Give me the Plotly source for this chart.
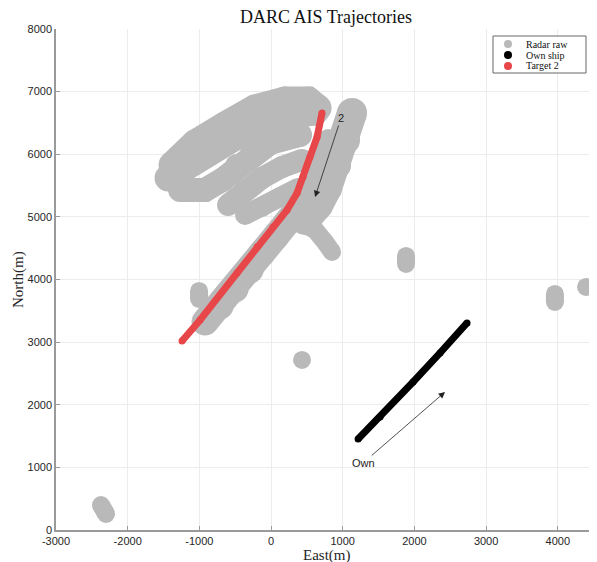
import plotly.graph_objects as go

# ---- data (East, North in metres) ----
x_ticks = [-3000, -2000, -1000, 0, 1000, 2000, 3000, 4000]
x_tick_text = ["-3000", "-2000", "-1000", "0", "1000", "2000", "3000", "4000"]
y_ticks = [0, 1000, 2000, 3000, 4000, 5000, 6000, 7000, 8000]
y_tick_text = ["0", "1000", "2000", "3000", "4000", "5000", "6000", "7000", "8000"]

# radar raw tracks (each a list of E, N pairs)
radar_a1_e = [-1381, -1060, -642, -223, 195, 516, 656]
radar_a1_n = [5829, 6180, 6468, 6739, 6867, 6867, 6739]
radar_a2_e = [-1437, -1060, -642, -223, 265, 614]
radar_a2_n = [5621, 5909, 6228, 6468, 6628, 6675]
radar_a3_e = [-1269, -921, -684, -474, -265, -14, 405]
radar_a3_n = [5430, 5430, 5590, 5813, 6021, 6180, 6308]
radar_b_e = [-600, -363, -126, 153, 432]
radar_b_n = [5190, 5430, 5621, 5797, 5909]
radar_c_e = [-363, -126, 126, 377]
radar_c_n = [5031, 5158, 5318, 5462]
radar_d_e = [-921, -711, -502, -293, -126, 70, 265, 405]
radar_d_n = [3322, 3577, 3849, 4152, 4424, 4695, 4951, 5174]
radar_e_e = [1130, 1032, 907, 781, 656, 474]
radar_e_n = [6659, 6228, 5829, 5462, 5190, 4951]
radar_e2_e = [795, 656, 516, 377]
radar_e2_n = [6260, 5877, 5494, 5190]
radar_f_e = [405, 614, 753, 851]
radar_f_n = [4919, 4791, 4599, 4440]
# small isolated returns (None separates tracks)
radar_s_e = [-1004, -1004, None, 1883, 1883, None, 432, None,
             3960, 3960, None, 4394, None, -2372, -2302]
radar_s_n = [3817, 3689, None, 4376, 4248, None, 2715, None,
             3769, 3641, None, 3881, None, 399, 256]

own_e = [1214, 1521, 1981, 2358, 2734]
own_n = [1453, 1805, 2364, 2827, 3306]

tgt2_e = [-1242, -990, -474, -195, 28, 223, 363, 446, 544, 642, 711]
tgt2_n = [3018, 3354, 4104, 4520, 4839, 5110, 5382, 5637, 5957, 6276, 6659]

legend_names = ["Radar raw", "Own ship", "Target 2"]

# annotations: text position and arrow head
ann_2_text = (977, 6580)
ann_2_head = (614, 5318)
ann_own_text = (1283, 1070)
ann_own_head = (2427, 2204)

GREY = "#b9b9b9"
RED = "#e8474a"
legend_colors = [GREY, "black", RED]

fig = go.Figure()

radar_tracks = [
    (radar_a1_e, radar_a1_n, 27),
    (radar_a2_e, radar_a2_n, 27),
    (radar_a3_e, radar_a3_n, 24),
    (radar_b_e, radar_b_n, 22),
    (radar_c_e, radar_c_n, 20),
    (radar_d_e, radar_d_n, 27),
    (radar_e_e, radar_e_n, 30),
    (radar_e2_e, radar_e2_n, 18),
    (radar_f_e, radar_f_n, 18),
    (radar_s_e, radar_s_n, 18),
]
for i, (xe, yn, w) in enumerate(radar_tracks):
    fig.add_trace(go.Scatter(
        x=xe, y=yn, mode="lines+markers", name="Radar raw",
        legendgroup="radar",
        line=dict(color=GREY, width=w),
        marker=dict(color=GREY, size=w),
        showlegend=False, hoverinfo="skip", connectgaps=False))

fig.add_trace(go.Scatter(
    x=own_e, y=own_n, mode="lines+markers", name="Own ship",
    line=dict(color="black", width=7), marker=dict(color="black", size=7),
    showlegend=False))
fig.add_trace(go.Scatter(
    x=tgt2_e, y=tgt2_n, mode="lines+markers", name="Target 2",
    line=dict(color=RED, width=7), marker=dict(color=RED, size=7),
    showlegend=False))

serif = "Liberation Serif, Times New Roman, serif"
sans = "Liberation Sans, Arial, sans-serif"

for (tx, ty), (hx, hy), txt in [(ann_2_text, ann_2_head, "2"),
                                (ann_own_text, ann_own_head, "Own")]:
    fig.add_annotation(
        x=hx, y=hy, ax=tx, ay=ty, xref="x", yref="y", axref="x", ayref="y",
        text=txt, showarrow=True, arrowhead=2, arrowsize=1.6, arrowwidth=0.8,
        arrowcolor="#222222", font=dict(family=sans, size=11, color="#222222"))

# page body adds an 8 px offset; figure is sized so the plot area lands at
# window px x 56..596, y 29..530
OFF = 8
FW, FH = 597 - OFF, 562 - OFF
ML, MT = 56 - OFF, 29 - OFF
MR, MB = FW - (596 - OFF), FH - (530 - OFF)
PW, PH = float(FW - ML - MR), float(FH - MT - MB)

# compact legend box
lx0, lx1 = (493 - 56) / PW, (586 - 56) / PW
ly1, ly0 = 1 - (36 - 29) / PH, 1 - (73 - 29) / PH
fig.add_shape(type="rect", xref="paper", yref="paper",
              x0=lx0, x1=lx1, y0=ly0, y1=ly1,
              line=dict(color="#666666", width=1), fillcolor="white", layer="above")
for k, (name, col) in enumerate(zip(legend_names, legend_colors)):
    yc = 1 - (44 + 11 * k - 29) / PH
    fig.add_shape(type="circle", xref="paper", yref="paper",
                  xsizemode="pixel", ysizemode="pixel",
                  xanchor=(508 - 56) / PW, yanchor=yc,
                  x0=-4, x1=4, y0=-4, y1=4,
                  line=dict(width=0), fillcolor=col, layer="above")
    fig.add_annotation(x=(525 - 56) / PW, y=yc, xref="paper", yref="paper",
                       text=name, showarrow=False, xanchor="left", yanchor="middle",
                       borderpad=0,
                       font=dict(family=serif, size=10, color="#111111"))

# axis titles placed as text
fig.add_annotation(x=(18 - 56) / PW, y=1 - (280 - 29) / PH, xref="paper", yref="paper",
                   text="North(m)", textangle=-90, showarrow=False,
                   xanchor="center", yanchor="middle", borderpad=0,
                   font=dict(family=serif, size=15, color="#262626"))
fig.add_annotation(x=(326 - 56) / PW, y=1 - (555 - 29) / PH, xref="paper", yref="paper",
                   text="East(m)", showarrow=False,
                   xanchor="center", yanchor="middle", borderpad=0,
                   font=dict(family=serif, size=15, color="#262626"))

fig.update_layout(
    width=FW, height=FH,
    margin=dict(l=ML, r=MR, t=MT, b=MB, autoexpand=False),
    paper_bgcolor="white", plot_bgcolor="white",
    title=dict(text="DARC AIS Trajectories", x=(326 - OFF) / FW, xanchor="center",
               y=1 - (17 - OFF) / FH, yanchor="middle", automargin=False,
               font=dict(family=serif, size=18, color="#111111")),
    showlegend=False,
)
fig.update_xaxes(
    range=[-3000, 4533], tickvals=x_ticks, ticktext=x_tick_text,
    showgrid=True, gridcolor="#ececec", gridwidth=1, zeroline=False,
    showline=True, linecolor="#9a9a9a", linewidth=1.5, automargin=False,
    ticks="inside", ticklen=4, tickcolor="#9a9a9a",
    tickfont=dict(family=sans, size=11, color="#262626"))
fig.update_yaxes(
    range=[0, 8000], tickvals=y_ticks, ticktext=y_tick_text,
    showgrid=True, gridcolor="#ececec", gridwidth=1, zeroline=False,
    showline=True, linecolor="#9a9a9a", linewidth=1.5, automargin=False,
    ticks="inside", ticklen=4, tickcolor="#9a9a9a",
    tickfont=dict(family=sans, size=11, color="#262626"))

fig.write_html("out.html")
